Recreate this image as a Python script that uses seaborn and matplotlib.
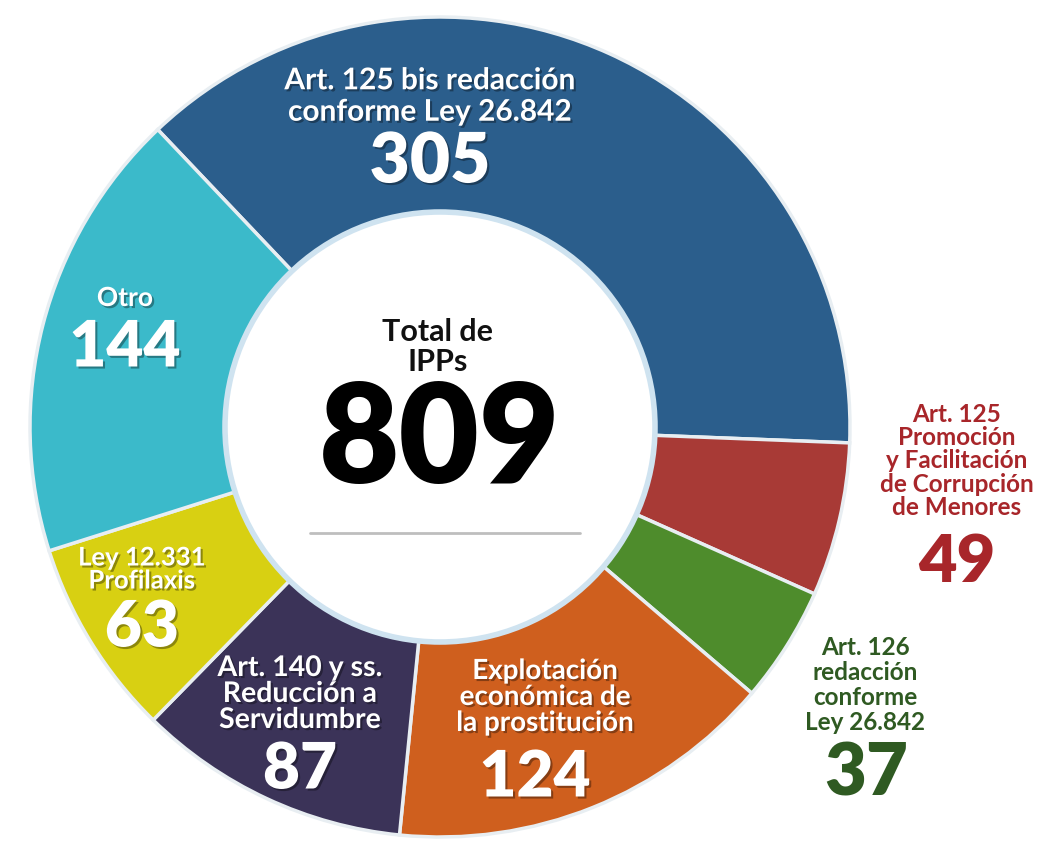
import matplotlib
matplotlib.use("Agg")
import matplotlib.pyplot as plt
import matplotlib.patheffects as pe
import seaborn as sns
from matplotlib.patches import Circle

# ---------------- data ----------------
categories = [
    "Art. 125 bis redacción\nconforme Ley 26.842",
    "Art. 125\nPromoción\ny Facilitación\nde Corrupción\nde Menores",
    "Art. 126\nredacción\nconforme\nLey 26.842",
    "Explotación\neconómica de\nla prostitución",
    "Art. 140 y ss.\nReducción a\nServidumbre",
    "Ley 12.331\nProfilaxis",
    "Otro",
]
values = [305, 49, 37, 124, 87, 63, 144]
colors = ["#2b5e8c", "#a83a36", "#4e8c2c", "#cf5f1e", "#3b3358", "#d8d012", "#3bbaca"]
total_label = "Total de\nIPPs"
total_value = sum(values)

# ---------------- style ----------------
sns.set_theme(style="white")
plt.rcParams["font.family"] = ["Lato", "DejaVu Sans"]

W, H = 1038, 852
fig = plt.figure(figsize=(W / 100, H / 100), dpi=100)
ax = fig.add_axes([0, 0, 1, 1])

cx, cy, R = 440, H - 427, 410
wedges, _ = ax.pie(
    values,
    colors=sns.color_palette(colors),
    startangle=133.5,
    counterclock=False,
    radius=R,
    center=(cx, cy),
    frame=True,
    wedgeprops=dict(width=R - 215, edgecolor="#e8eef2", linewidth=2.5),
)

# inner white disc with a soft rim
ax.add_patch(Circle((cx, cy), 215, facecolor="white", edgecolor="#cfe3f0", linewidth=4, zorder=3))
ax.plot([310, 580], [H - 533, H - 533], color="#8a8a8a", lw=2.0, alpha=0.55,
        solid_capstyle="round", zorder=4)

ax.set_xlim(0, W)
ax.set_ylim(0, H)
ax.set_aspect("equal")
ax.axis("off")

shadow = [pe.withSimplePatchShadow(offset=(1.5, -1.5), shadow_rgbFace="black", alpha=0.35)]

def lbl(x, y, s, size, color="white", weight="bold", ls=1.05, fx=True):
    ax.text(x, H - y, s, ha="center", va="center", fontsize=size, color=color,
            fontweight=weight, linespacing=ls, zorder=5,
            path_effects=shadow if fx else None)

# center
lbl(438, 347, total_label, 22, color="#111111", ls=1.1, fx=False)
lbl(440, 443, str(total_value), 100, color="#000000", weight="heavy", fx=False)

# 305
lbl(430, 96, categories[0], 21.5, ls=1.15)
lbl(430, 163, str(values[0]), 50, weight="heavy")
# 144 Otro
lbl(125, 298, categories[6], 19)
lbl(125, 348, str(values[6]), 46, weight="heavy")
# 63
lbl(142, 569, categories[5], 18.5, ls=0.95)
lbl(142, 628, str(values[5]), 46, weight="heavy")
# 87
lbl(300, 694, categories[4], 20.5, ls=1.0)
lbl(300, 770, str(values[4]), 46, weight="heavy")
# 124
lbl(545, 697, categories[3], 20, ls=1.0)
lbl(535, 778, str(values[3]), 46, weight="heavy")
# 49 (outside, red)
lbl(957, 461, categories[1], 17.5, color="#a8262a", ls=1.02, fx=False)
lbl(957, 563, str(values[1]), 48, color="#a8262a", weight="heavy", fx=False)
# 37 (outside, green)
lbl(865, 685, categories[2], 17.5, color="#2f5a22", ls=1.12, fx=False)
lbl(866, 775, str(values[2]), 52, color="#2f5a22", weight="heavy", fx=False)

fig.savefig("out.png", dpi=100, facecolor="white")
